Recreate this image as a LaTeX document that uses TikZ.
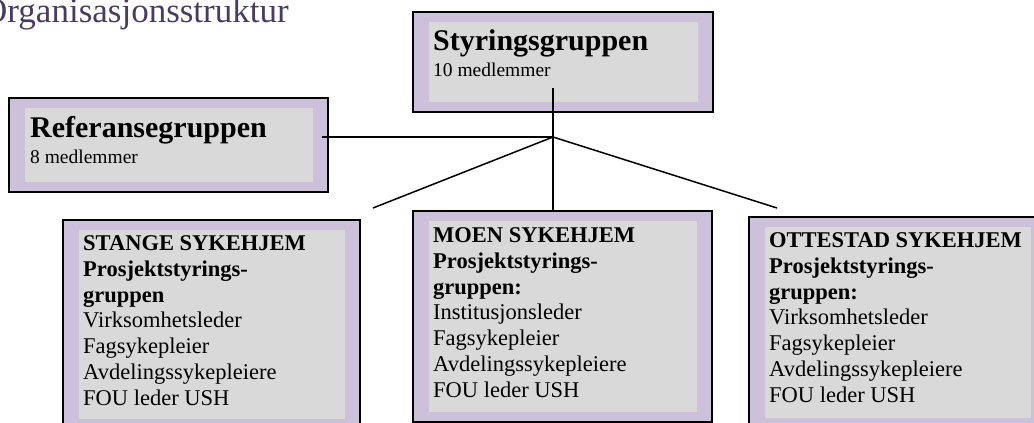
\documentclass[tikz,border=0pt]{standalone}
\usepackage{fontspec}
\setmainfont{Liberation Serif}
\usetikzlibrary{calc}
\definecolor{boxpurple}{HTML}{CCC0DA}
\definecolor{boxgrey}{HTML}{D9D9D9}
\definecolor{titlepurple}{HTML}{4A3B62}

\begin{document}
\begin{tikzpicture}[x=1pt, y=-1pt,
  groupbox/.style={draw=black, line width=1.6pt, fill=boxpurple, inner sep=0pt,
    path picture={\fill[boxgrey] ($(path picture bounding box.north west)+(16,10)$) rectangle ($(path picture bounding box.south east)+(-15,-10)$);}},
  groupname/.style={anchor=base west, inner sep=0pt, font=\fontsize{30}{36}\selectfont\bfseries},
  groupcount/.style={anchor=base west, inner sep=0pt, font=\fontsize{19.5}{23}\selectfont},
  memberlist/.style={anchor=north west, inner sep=0pt, align=left, font=\fontsize{22.5}{25.8}\selectfont},
  link/.style={black, line width=1.5pt}]
  \useasboundingbox (0,0) rectangle (1034,423);
  \clip (0,0) rectangle (1034,423);

  \node[text=titlepurple, anchor=base west, inner sep=0pt, font=\fontsize{35}{40}\selectfont] (title) at (-18,23) {Organisasjonsstruktur};

  \node[groupbox, minimum width=300pt, minimum height=100pt] (sty) at (563,62) {};
  \node[groupbox, minimum width=319pt, minimum height=94pt] (ref) at (168.5,145) {};
  \node[groupbox, minimum width=297pt, minimum height=209pt] (stange) at (211.5,324.5) {};
  \node[groupbox, minimum width=299pt, minimum height=211pt] (moen) at (562.5,316.5) {};
  \node[groupbox, minimum width=297pt, minimum height=211pt] (ottestad) at (897.5,322.5) {};

  \coordinate (j) at (553,137);
  \coordinate (stytail) at (553,88);
  \coordinate (reftail) at (322,137);
  \coordinate (leftend) at (373,208);
  \coordinate (rightend) at (777,208);
  \draw[link] (stytail) -- (j);
  \draw[link] (reftail) -- (j);
  \draw[link] (j) -- (leftend);
  \draw[link] (j) -- (rightend);
  \draw[link] (j) -- (j |- moen.north);

  \node[groupname] (styname) at (433,50) {Styringsgruppen};
  \node[groupcount] (stycount) at (433,76) {10 medlemmer};
  \node[groupname] (refname) at (30,137) {Referansegruppen};
  \node[groupcount] (refcount) at (30,163) {8 medlemmer};

  \node[memberlist] (stangetext) at (83,235.3) {\textbf{STANGE SYKEHJEM}\\\textbf{Prosjektstyrings-}\\\textbf{gruppen}\\Virksomhetsleder\\Fagsykepleier\\Avdelingssykepleiere\\FOU leder USH};
  \node[memberlist] (moentext) at (433,227.3) {\textbf{MOEN SYKEHJEM}\\\textbf{Prosjektstyrings-}\\\textbf{gruppen:}\\Institusjonsleder\\Fagsykepleier\\Avdelingssykepleiere\\FOU leder USH};
  \node[memberlist] (ottestadtext) at (769,232.3) {\textbf{OTTESTAD SYKEHJEM}\\\textbf{Prosjektstyrings-}\\\textbf{gruppen:}\\Virksomhetsleder\\Fagsykepleier\\Avdelingssykepleiere\\FOU leder USH};
\end{tikzpicture}
\end{document}
